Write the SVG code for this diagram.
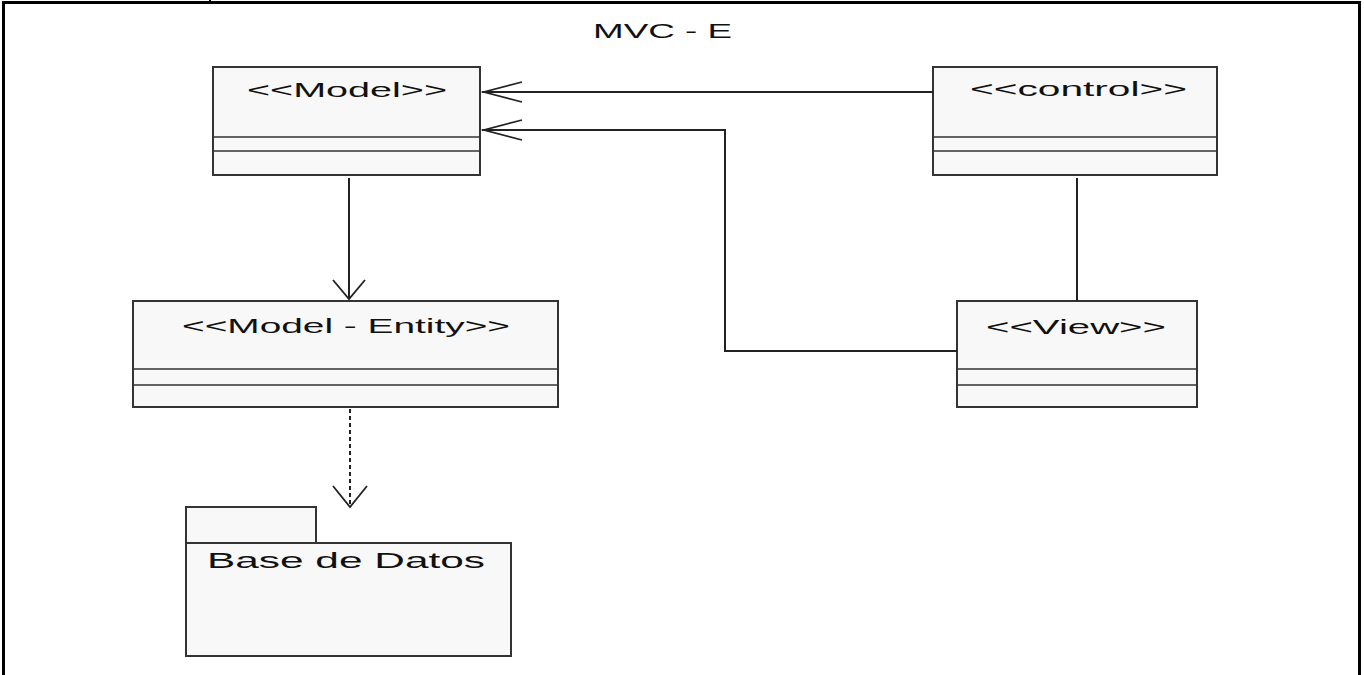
<svg xmlns="http://www.w3.org/2000/svg" width="1364" height="675" viewBox="0 0 1364 675">
<style>
.box{fill:#f8f8f8;stroke:#333;stroke-width:2}
.div{stroke:#333;stroke-width:1.6;fill:none}
.lbl{font-family:"Liberation Sans",Arial,sans-serif;font-size:20px;fill:#111}
.con{stroke:#222;stroke-width:2;fill:none}
.head{stroke:#222;stroke-width:1.8;fill:none}
.dash{stroke-dasharray:4 3}
</style>
<rect x="0" y="0" width="1364" height="675" fill="#ffffff"/>
<g id="frame">
<path d="M3.5,675 V2.5 H1359.5 V675" fill="none" stroke="#000" stroke-width="3"/>
<line x1="210" y1="0" x2="210" y2="2" stroke="#000" stroke-width="2"/>
</g>
<g id="title">
<text class="lbl" x="593" y="38" textLength="139" lengthAdjust="spacingAndGlyphs">MVC - E</text>
</g>
<g id="model">
<rect class="box" x="213" y="67" width="267" height="108"/>
<line class="div" x1="213" y1="137" x2="480" y2="137"/>
<line class="div" x1="213" y1="151" x2="480" y2="151"/>
<text class="lbl" x="247" y="97" textLength="200" lengthAdjust="spacingAndGlyphs">&lt;&lt;Model&gt;&gt;</text>
</g>
<g id="control">
<rect class="box" x="933" y="67" width="284" height="108"/>
<line class="div" x1="933" y1="137" x2="1217" y2="137"/>
<line class="div" x1="933" y1="151" x2="1217" y2="151"/>
<text class="lbl" x="970" y="96" textLength="217" lengthAdjust="spacingAndGlyphs">&lt;&lt;control&gt;&gt;</text>
</g>
<g id="model-entity">
<rect class="box" x="133" y="301" width="425" height="106"/>
<line class="div" x1="133" y1="369" x2="558" y2="369"/>
<line class="div" x1="133" y1="385" x2="558" y2="385"/>
<text class="lbl" x="182" y="333" textLength="328" lengthAdjust="spacingAndGlyphs">&lt;&lt;Model - Entity&gt;&gt;</text>
</g>
<g id="view">
<rect class="box" x="957" y="301" width="240" height="106"/>
<line class="div" x1="957" y1="369" x2="1197" y2="369"/>
<line class="div" x1="957" y1="385" x2="1197" y2="385"/>
<text class="lbl" x="986" y="334" textLength="180" lengthAdjust="spacingAndGlyphs">&lt;&lt;View&gt;&gt;</text>
</g>
<g id="base-de-datos">
<rect class="box" x="186" y="507" width="130" height="36"/>
<rect class="box" x="186" y="543" width="325" height="113"/>
<text class="lbl" x="207" y="568" font-size="22" style="font-size:22px" textLength="278" lengthAdjust="spacingAndGlyphs">Base de Datos</text>
</g>
<g id="connectors">
<line class="con" x1="933" y1="92" x2="482" y2="92"/>
<path class="head" d="M522,82 L484,92 L522,102"/>
<path class="con" d="M957,351 H725 V130 H482"/>
<path class="head" d="M522,120 L484,130 L522,140"/>
<line class="con" x1="349" y1="178" x2="349" y2="299"/>
<path class="head" d="M333,280 L349,299 L365,280"/>
<line class="con" x1="1077" y1="178" x2="1077" y2="301"/>
<line class="con dash" x1="350" y1="409" x2="350" y2="506"/>
<path class="head" d="M333,486 L350,507 L367,486"/>
</g>
</svg>
